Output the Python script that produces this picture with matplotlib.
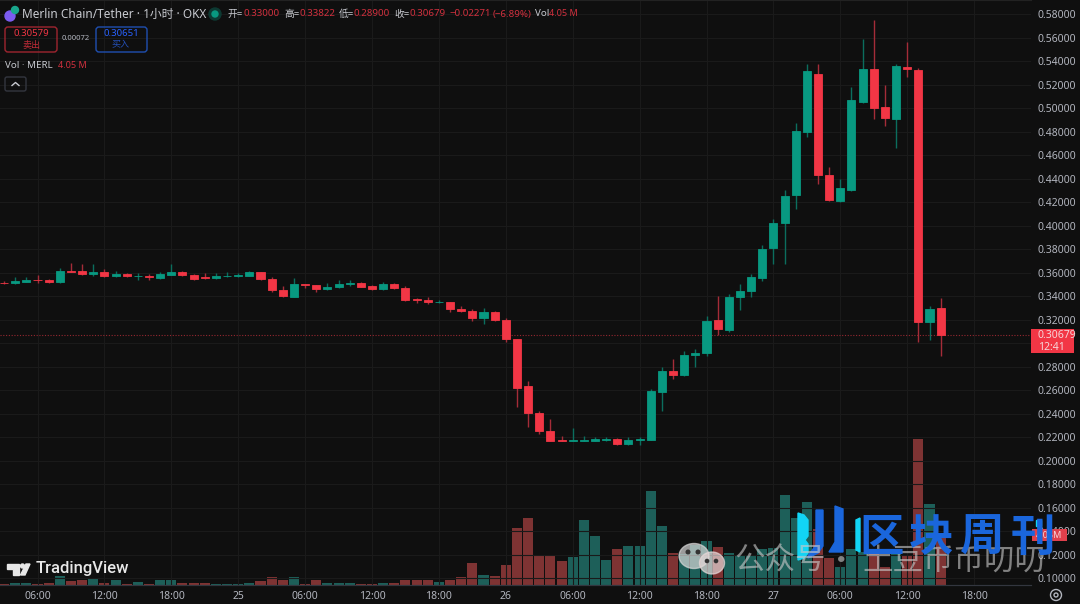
import numpy as np
import matplotlib
matplotlib.use("Agg")
import matplotlib.pyplot as plt
from matplotlib.patches import Rectangle, FancyBboxPatch, Ellipse, Polygon, Circle

plt.rcParams['font.family'] = ['Noto Sans', 'Noto Sans CJK SC', 'DejaVu Sans']

# hourly candles, first one is 03:00 on the 24th
opens = [.3515, .3509, .3520, .3540, .3540, .3520, .3617, .3611, .3586, .3603, .3569, .3591, .3569, .3569, .3554, .3580, .3603,
         .3577, .3563, .3554, .3569, .3569, .3574, .3605, .3546, .3455, .3393, .3506, .3495, .3458, .3478, .3504, .3512, .3489,
         .3458, .3506, .3469, .3376, .3370, .3348, .3350, .3294, .3274, .3212, .3263, .3198, .3036, .2634, .2402, .2255, .2173,
         .2167, .2167, .2170, .2173, .2184, .2142, .2173, .2179, .2586, .2765, .2733, .2898, .2915, .3198, .3111, .3396, .3442,
         .3555, .3807, .4022, .4257, .4796, .5291, .4433, .4206, .4305, .5056, .5331, .5008, .4909, .5351, .5325, .3180, .33000]
highs = [.3529, .3563, .3563, .3583, .3543, .3639, .3685, .3676, .3676, .3631, .3614, .3594, .3600, .3591, .3605, .3676, .3617,
         .3591, .3594, .3594, .3605, .3600, .3614, .3608, .3563, .3484, .3554, .3506, .3498, .3509, .3535, .3535, .3517, .3492,
         .3523, .3515, .3489, .3387, .3393, .3367, .3353, .3319, .3291, .3297, .3274, .3212, .3039, .2674, .2419, .2351, .2213,
         .2275, .2213, .2199, .2204, .2193, .2199, .2199, .2606, .2793, .2861, .2937, .2954, .3234, .3404, .3422, .3504, .3592,
         .3838, .4053, .4305, .4872, .5376, .5376, .4498, .4399, .5181, .5589, .5750, .5198, .5376, .5560, .5339, .3319, .33822]
lows = [.3506, .3506, .3518, .3512, .3515, .3515, .3603, .3583, .3574, .3566, .3560, .3566, .3535, .3540, .3549, .3577, .3574,
        .3535, .3549, .3549, .3566, .3566, .3571, .3540, .3438, .3393, .3390, .3470, .3438, .3455, .3472, .3489, .3475, .3455,
        .3455, .3458, .3362, .3339, .3336, .3339, .3263, .3263, .3186, .3166, .3192, .3014, .2456, .2284, .2230, .2165, .2165,
        .2165, .2165, .2165, .2165, .2133, .2133, .2133, .2173, .2422, .2691, .2719, .2801, .2889, .3067, .3091, .3283, .3396,
        .3532, .3671, .3670, .4144, .4758, .4356, .4206, .4203, .4291, .5045, .4911, .4849, .4659, .5266, .3007, .3024, .28900]
closes = [.3512, .3529, .3540, .3535, .3523, .3617, .3605, .3586, .3605, .3569, .3591, .3569, .3574, .3560, .3591, .3603, .3577,
          .3549, .3552, .3571, .3574, .3580, .3605, .3543, .3453, .3402, .3501, .3495, .3458, .3478, .3506, .3515, .3481, .3458,
          .3503, .3472, .3367, .3365, .3348, .3353, .3291, .3271, .3212, .3263, .3195, .3039, .2620, .2405, .2252, .2167, .2167,
          .2173, .2173, .2182, .2187, .2142, .2179, .2184, .2592, .2765, .2733, .2895, .2915, .3192, .3118, .3396, .3445, .3563,
          .3804, .4025, .4251, .4807, .5314, .4427, .4214, .4322, .5067, .5336, .5005, .4914, .5359, .5336, .3180, .3294, .30679]
# volume in millions
volumes = [.08, .14, .14, .11, .19, .76, .34, .40, .51, .19, .40, .11, .23, .11, .45, .45, .19,
           .19, .19, .11, .11, .11, .19, .31, .65, .40, .65, .11, .40, .19, .14, .14, .11, .11,
           .14, .19, .45, .40, .40, .25, .45, .65, 1.86, .84, .76, 1.66, 4.81, 5.65, 2.45, 2.45, 2.0,
           2.36, 5.46, 4.14, 2.11, 3.04, 3.29, 3.29, 7.93, 4.98, 2.70, 2.62, 3.38, 3.71, 3.21, 2.70, 2.53,
           2.53, 3.04, 3.12, 7.6, 5.65, 7.0, 4.73, 2.28, 1.52, 3.04, 2.79, 2.95, 1.52, 2.79, 2.53, 12.32, 6.84, 4.05]

time_ticks = [0, 6, 12, 18, 24, 30, 36, 42, 48, 54, 60, 66, 72, 78, 84]
time_labels = ["06:00", "12:00", "18:00", "25", "06:00", "12:00", "18:00", "26",
               "06:00", "12:00", "18:00", "27", "06:00", "12:00", "18:00"]
price_ticks = [0.10 + 0.02 * k for k in range(25)]

BG = "#0f0f0f"
UP, DOWN = "#089981", "#f23645"
TXT = "#b2b5be"

o = np.array(opens)
h = np.array(highs)
l = np.array(lows)
c = np.array(closes)
v = np.array(volumes)
x = np.arange(len(o)) - 3
is_up = c >= o

fig = plt.figure(figsize=(10.8, 6.04), dpi=100, facecolor=BG)
ax = fig.add_axes([0, 19 / 604, 1031 / 1080, 585 / 604])
ax2 = ax.twinx()
ax.set_zorder(ax2.get_zorder() + 1)
ax.patch.set_visible(False)
ax2.set_facecolor(BG)

# volume pane
vol_col = np.where(is_up, "#1d5f59", "#7e3333")
ax2.bar(x, v, width=0.9, color=vol_col, linewidth=0)
ax2.set_ylim(0, 49.4)
ax2.set_yticks([])

# candles
wick_col = np.where(is_up, "#0b6e5e", "#a52c38")
ax.vlines(x, l, h, colors=wick_col, linewidth=1.0, zorder=3)
body_col = np.where(is_up, UP, DOWN)
ax.bar(x, np.abs(c - o), bottom=np.minimum(o, c), width=0.72, color=body_col,
       edgecolor=body_col, linewidth=0.6, zorder=4)
ax.axhline(c[-1], color="#c2303c", lw=0.8, ls=(0, (1, 1.5)), alpha=0.75, zorder=2)

ax.set_xlim(-37.5 / 11.15, 993.5 / 11.15)
ax.set_ylim(0.0942, 0.592)
ax.set_xticks(time_ticks)
ax.set_xticklabels(time_labels)
ax.set_yticks(price_ticks)
# the 0.30 label sits behind the last price tag
ax.set_yticklabels(["" if abs(p - 0.30) < 1e-6 else f"{p:.5f}" for p in price_ticks])
ax.yaxis.tick_right()
ax.tick_params(length=0, labelcolor=TXT, labelsize=7.5)
ax.tick_params(axis="y", pad=5)
ax.tick_params(axis="x", pad=4)
ax.grid(True, color="#1a1a1a", lw=0.8)
ax.set_axisbelow(True)
for ax_ in (ax, ax2):
    for name, sp in ax_.spines.items():
        sp.set_visible(name in ("bottom", "top"))
        sp.set_color("#33363f" if name == "bottom" else "#222222")

# everything else is placed in picture pixels
ov = fig.add_axes([0, 0, 1, 1], zorder=10)
ov.set_xlim(0, 1080)
ov.set_ylim(604, 0)
ov.axis("off")


def label(px, py, s, color=TXT, size=8, ha="left", **kw):
    ov.text(px, py, s, color=color, fontsize=size, ha=ha, va="center", **kw)


# header
ov.add_patch(Circle((10, 16), 5, color="#7b5cf0"))
ov.add_patch(Circle((15, 10), 3.5, color="#19a68c"))
label(22, 14, "Merlin Chain/Tether · 1小时 · OKX", color="#c8cad0", size=8.5)
ov.add_patch(Circle((215, 14), 6, color="#0d3a33"))
ov.add_patch(Circle((215, 14), 3, color=UP))
RED_TXT = "#d2303e"
for px, name, val in [(228, "开=", "0.33000"), (284, "高=", "0.33822"),
                      (339, "低=", "0.28900"), (394, "收=", "0.30679")]:
    label(px, 14, name, color="#c8cad0", size=7)
    label(px + 15, 14, val, color=RED_TXT, size=7)
label(449, 14, "−0.02271", color=RED_TXT, size=7)
label(493, 14, "(−6.89%)", color=RED_TXT, size=7)
label(535, 14, "Vol", color="#c8cad0", size=7)
label(549, 14, "4.05 M", color=RED_TXT, size=6.5)

ov.add_patch(FancyBboxPatch((5, 27), 52, 25, boxstyle="round,pad=0,rounding_size=3",
                            fc="none", ec="#a02530", lw=1))
label(31, 34, "0.30579", color=DOWN, size=6.9, ha="center")
label(31, 45, "卖出", color="#c02c38", size=6.5, ha="center")
label(76, 39, "0.00072", color=TXT, size=5.5, ha="center")
ov.add_patch(FancyBboxPatch((96, 27), 51, 25, boxstyle="round,pad=0,rounding_size=3",
                            fc="none", ec="#1f4fb0", lw=1))
label(121, 34, "0.30651", color="#2962ff", size=6.9, ha="center")
label(121, 45, "买入", color="#2450b8", size=6.5, ha="center")
label(5, 65, "Vol · MERL", color="#c8cad0", size=7)
label(58, 65, "4.05 M", color=RED_TXT, size=6.5)
ov.add_patch(FancyBboxPatch((5, 77), 21, 14, boxstyle="round,pad=0,rounding_size=2",
                            fc="none", ec="#33363f", lw=1))
ov.plot([12, 15.5, 19], [85.5, 82.5, 85.5], color="#c8cad0", lw=1)

# last price and volume tags
ov.add_patch(Rectangle((1031, 329), 43, 24, fc=DOWN, ec="none"))
label(1038, 336, "0.30679", color="#f5d5d8", size=7.5)
label(1038, 347, "12:41", color="#f5d5d8", size=7.5)
ov.add_patch(Rectangle((1032, 529), 35, 12, fc="#e0404c", ec="none"))
label(1049.5, 535, "4.05M", color="#f5d5d8", size=6.5, ha="center")

# settings gear
ov.add_patch(Circle((1056, 595), 5.5, fc="none", ec=TXT, lw=1))
ov.add_patch(Circle((1056, 595), 2, fc="none", ec=TXT, lw=1))

# TradingView mark
ov.add_patch(Polygon([(7, 564), (19, 564), (19, 575), (13, 575), (13, 569), (7, 569)], color="#e8e8e8"))
ov.add_patch(Circle((22.5, 566), 2, color="#e8e8e8"))
ov.add_patch(Polygon([(26, 564), (30, 564), (25, 575), (20.5, 575)], color="#e8e8e8"))
label(36, 569, "TradingView", color="#e8e8e8", size=12, fontweight="medium", family="Roboto")

# WeChat watermark
ov.add_patch(Ellipse((694, 556), 30, 25, color="#d8d8d8", alpha=0.7))
ov.add_patch(Ellipse((712, 563), 25, 22, color="#e6d8d8", alpha=0.7))
ov.add_patch(Circle((688, 552), 1.8, color="#333333"))
ov.add_patch(Circle((698, 552), 1.8, color="#333333"))
ov.add_patch(Circle((707, 561), 1.6, color="#333333"))
ov.add_patch(Circle((716, 561), 1.6, color="#333333"))
wm = dict(color="#c8c8c8", size=22, alpha=0.62, family="Noto Sans CJK SC")
label(734, 561, "公众号", **wm)
label(841, 561, "·", ha="center", **wm)
label(862, 561, "土豆币币叨叨", **wm)

# weekly logo
ov.add_patch(Polygon([(798, 513), (804, 515), (808, 520), (808, 536), (805, 540), (808, 544),
                      (808, 553), (804, 558), (798, 560)], color="#12d4f5"))
ov.add_patch(Polygon([(816, 510), (823, 510), (823, 546), (818, 553), (808, 558), (808, 556),
                      (816, 545)], color="#1a66dc"))
ov.add_patch(Polygon([(835, 506), (843, 509), (843, 552), (829, 552), (835, 542)], color="#1a66dc"))
ov.add_patch(Polygon([(856, 520), (860, 518), (860, 552), (856, 550)], color="#12d4f5"))
for px, ch in zip([882, 931, 982, 1033], "区块周刊"):
    label(px, 538, ch, color="#1a66dc", size=32, ha="center", family="Noto Sans CJK SC", fontweight="bold")
ov.add_patch(Rectangle((1036, 520), 4.5, 6, color="#12d4f5"))

fig.savefig("out.png", dpi=100, facecolor=BG)
